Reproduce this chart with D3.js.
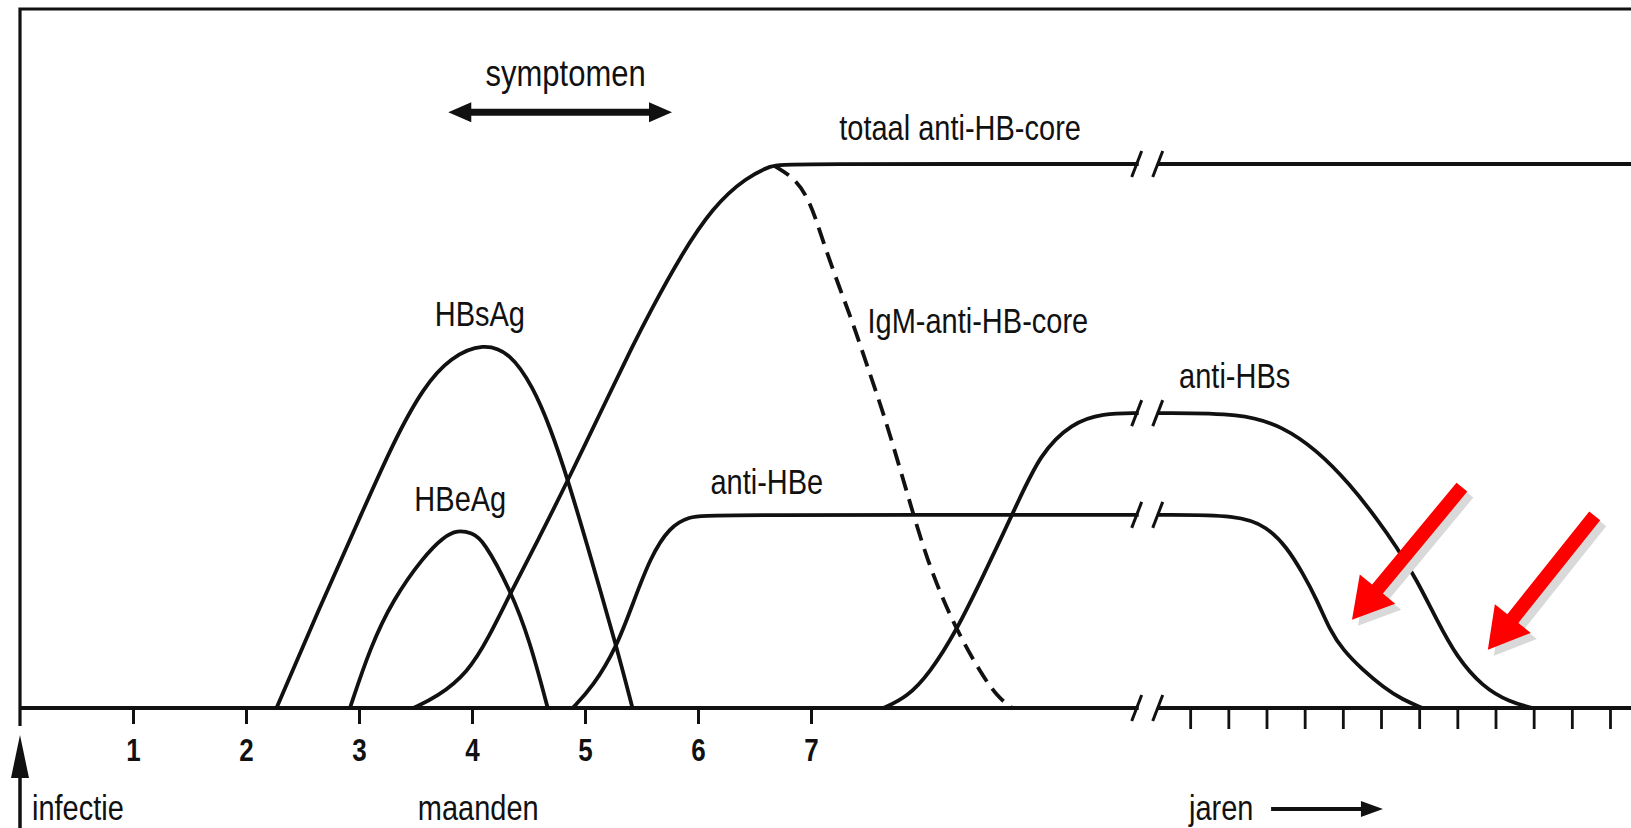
<!DOCTYPE html>
<html>
<head>
<meta charset="utf-8">
<script src="https://cdn.jsdelivr.net/npm/d3@7"></script>
<style>
  body { margin: 0; background: #fff; }
  svg text { font-family: "Liberation Sans", Arial, sans-serif; fill: #111; }
</style>
</head>
<body>
<svg width="1631" height="828"></svg>
<script>
// ---- data (months after infection on the left, years after the axis break) ----
var monthTicks = [1, 2, 3, 4, 5, 6, 7];
var yearTicks = d3.range(1, 13);
var breakLevels = [0, 35.5, 54.2, 100];

// [month, level]
var hbsAg = [[2.27,0],[2.63,17.5],[3.01,35.1],[3.3,48.7],[3.57,59],[3.81,64.5],[4.1,67.1],[4.34,65.3],[4.54,59],[4.69,51.7],[4.85,41.9],[5.04,28.5],[5.28,11.2],[5.42,0]];
var hbeAg = [[2.92,0],[3.1,11.2],[3.3,19.9],[3.57,27.8],[3.75,31.5],[3.87,32.7],[4.0,32.2],[4.1,30.9],[4.34,21.7],[4.51,12.5],[4.67,0]];
var totaalMonths = [[3.48,0],[3.69,2],[3.96,6.4],[4.15,13],[4.34,21.1],[4.6,31.5],[4.85,41.9],[5.22,57.9],[5.42,66.5],[5.58,73],[5.84,82.9],[6.13,92.1],[6.43,97.6],[6.66,99.8],[6.75,100],[9.9,100]];
var igmMonths = [[6.68,99.6],[6.85,97.5],[6.99,93.4],[7.11,85.5],[7.26,76.8],[7.37,70.8],[7.5,62.7],[7.65,53.7],[7.84,40.3],[8.03,26.8],[8.26,15.4],[8.49,6.8],[8.65,2],[8.78,0]];
var antiHBeMonths = [[4.89,0],[5.07,3.9],[5.28,11.2],[5.42,19],[5.58,27.8],[5.75,33.3],[5.92,35.2],[6.1,35.5],[9.9,35.5]];
var antiHBsMonths = [[7.64,0],[7.85,2],[8.05,6.4],[8.29,14.3],[8.52,24.1],[8.8,36.4],[9.03,46.9],[9.31,52.4],[9.58,54.2],[9.9,54.2]];

// [year, level]
var totaalYears = [[0.15,100],[12.6,100]];
var antiHBeYears = [[0.15,35.5],[2.3,35.5],[3.01,33.3],[3.53,29.6],[3.95,24.8],[4.32,19.9],[4.66,14.3],[5.0,10.7],[5.52,7.0],[6.05,3.9],[6.57,1.5],[7.09,0]];
var antiHBsYears = [[0.15,54.2],[2.38,54.2],[3.43,51.7],[4.32,47.4],[5.18,41.2],[5.89,34.8],[6.41,29.6],[6.94,23.5],[7.46,16.2],[7.98,9.4],[8.66,3.9],[9.37,1.1],[9.97,0]];

// label texts and where they sit (month or year, level)
var curveLabels = [
  {text: "symptomen", unit: "m", t: 4.12, v: 114.3},
  {text: "totaal anti-HB-core", unit: "m", t: 7.25, v: 104.4},
  {text: "HBsAg", unit: "m", t: 3.67, v: 70.3},
  {text: "IgM-anti-HB-core", unit: "m", t: 7.5, v: 68.9},
  {text: "anti-HBs", unit: "y", t: 0.71, v: 58.8},
  {text: "HBeAg", unit: "m", t: 3.49, v: 36.2},
  {text: "anti-HBe", unit: "m", t: 6.11, v: 39.3}
];
var symptomSpan = [3.79, 5.77];
var redArrows = [
  {from: [8.12, 40.6], to: [5.24, 16.2]},
  {from: [11.6, 35.3], to: [8.8, 10.7]}
];

// ---- scales ----
var svg = d3.select("svg"),
    width = +svg.attr("width"),
    height = +svg.attr("height");

var xM = d3.scaleLinear().domain([0, 7]).range([20, 811]);
var xY = d3.scaleLinear().domain([0, 12]).range([1152, 1610]);
var y = d3.scaleLinear().domain([0, 100]).range([708, 164]);
var breakM = 9.9, startY = 0.15, endY = 12.6;
var xOf = function (unit) { return unit === "y" ? xY : xM; };
var stretch = " scale(1,1.18)";   // the scanned lettering is tall and narrow

function lineFor(xs) {
  return d3.line()
    .x(function (d) { return xs(d[0]); })
    .y(function (d) { return y(d[1]); })
    .curve(d3.curveBasis);
}

// frame (top and left)
svg.append("path")
  .attr("d", "M" + xM(0) + "," + (y(0) + 18) + "V9H" + width)
  .attr("fill", "none").attr("stroke", "#111").attr("stroke-width", 3.2);

// axes
var gm = svg.append("g")
  .attr("transform", "translate(0," + y(0) + ")")
  .call(d3.axisBottom(xM).tickValues(monthTicks).tickSize(16).tickFormat(d3.format("d")));
gm.select(".domain").remove();
gm.selectAll("line").attr("stroke", "#111").attr("stroke-width", 3);
gm.selectAll("text")
  .attr("y", 0).attr("dy", null)
  .attr("transform", "translate(0,53)" + stretch)
  .attr("font-size", 26).attr("font-weight", "bold")
  .style("font-family", "'Liberation Sans', Arial, sans-serif").attr("fill", "#111");

var gy = svg.append("g")
  .attr("transform", "translate(0," + y(0) + ")")
  .call(d3.axisBottom(xY).tickValues(yearTicks).tickSize(21).tickFormat(""));
gy.select(".domain").remove();
gy.selectAll("line").attr("stroke", "#111").attr("stroke-width", 2.8);

// baseline in two parts
svg.append("path").attr("d", lineFor(xM)([[0, 0], [breakM, 0]]))
  .attr("fill", "none").attr("stroke", "#111").attr("stroke-width", 3.8);
svg.append("path").attr("d", lineFor(xY)([[startY, 0], [endY, 0]]))
  .attr("fill", "none").attr("stroke", "#111").attr("stroke-width", 3.8);

// curves
var series = [
  {m: hbsAg},
  {m: hbeAg},
  {m: totaalMonths, yr: totaalYears},
  {m: antiHBeMonths, yr: antiHBeYears},
  {m: antiHBsMonths, yr: antiHBsYears},
  {m: igmMonths, dash: "17,9"}
];
series.forEach(function (s) {
  svg.append("path").attr("d", lineFor(xM)(s.m))
    .attr("fill", "none").attr("stroke", "#111").attr("stroke-width", 3.8)
    .attr("stroke-dasharray", s.dash || null);
  if (s.yr) {
    svg.append("path").attr("d", lineFor(xY)(s.yr))
      .attr("fill", "none").attr("stroke", "#111").attr("stroke-width", 3.8);
  }
});

// break marks //
breakLevels.forEach(function (v) {
  [xM(breakM) - 2, xY(startY)].forEach(function (bx) {
    svg.append("line")
      .attr("x1", bx + 5).attr("y1", y(v) - 13)
      .attr("x2", bx - 5).attr("y2", y(v) + 13)
      .attr("stroke", "#111").attr("stroke-width", 3);
  });
});

// labels
svg.selectAll(".lbl")
  .data(curveLabels)
  .enter().append("text")
    .attr("class", "lbl")
    .attr("transform", function (d) {
      return "translate(" + xOf(d.unit)(d.t) + "," + y(d.v) + ")" + stretch;
    })
    .attr("font-size", function (d) { return d.text === "symptomen" ? 31 : 29; })
    .text(function (d) { return d.text; });

// symptoms double arrow
var sy = y(109.5), sx0 = xM(symptomSpan[0]), sx1 = xM(symptomSpan[1]);
svg.append("line").attr("x1", sx0 + 12).attr("x2", sx1 - 12).attr("y1", sy).attr("y2", sy)
  .attr("stroke", "#111").attr("stroke-width", 7);
svg.append("path")
  .attr("d", "M" + sx0 + "," + sy + "l23,-10v20z M" + sx1 + "," + sy + "l-23,-10v20z")
  .attr("fill", "#111");

// bottom texts
[
  {text: "infectie", x: xM(0) + 12},
  {text: "maanden", x: xM(3.52)},
  {text: "jaren", x: xY(0.97)}
].forEach(function (d) {
  svg.append("text")
    .attr("transform", "translate(" + d.x + ",820)" + stretch)
    .attr("font-size", 29)
    .text(d.text);
});

// infection arrow
svg.append("line").attr("x1", xM(0)).attr("x2", xM(0)).attr("y1", 770).attr("y2", height)
  .attr("stroke", "#111").attr("stroke-width", 3.5);
svg.append("path")
  .attr("d", "M" + xM(0) + ",735l9,43h-18z").attr("fill", "#111");

// "jaren" arrow
var jy = 809, jx0 = xY(3.12), jx1 = xY(6.05);
svg.append("line").attr("x1", jx0).attr("x2", jx1 - 15).attr("y1", jy).attr("y2", jy)
  .attr("stroke", "#111").attr("stroke-width", 4);
svg.append("path").attr("d", "M" + jx1 + "," + jy + "l-22,-8v16z").attr("fill", "#111");

// red annotation arrows with grey shadow
function arrowPoly(x1, y1, x2, y2, shaft, headL, headW) {
  var dx = x2 - x1, dy = y2 - y1, len = Math.sqrt(dx * dx + dy * dy);
  var ux = dx / len, uy = dy / len, nx = -uy, ny = ux;
  var bx = x2 - ux * headL, by = y2 - uy * headL;
  var p = [
    [x1 + nx * shaft / 2, y1 + ny * shaft / 2],
    [bx + nx * shaft / 2, by + ny * shaft / 2],
    [bx + nx * headW / 2, by + ny * headW / 2],
    [x2, y2],
    [bx - nx * headW / 2, by - ny * headW / 2],
    [bx - nx * shaft / 2, by - ny * shaft / 2],
    [x1 - nx * shaft / 2, y1 - ny * shaft / 2]
  ];
  return "M" + p.join("L") + "Z";
}
redArrows.forEach(function (a) {
  var d = arrowPoly(xY(a.from[0]), y(a.from[1]), xY(a.to[0]), y(a.to[1]), 14, 40, 46);
  svg.append("path").attr("d", d).attr("fill", "#d9d9d9").attr("transform", "translate(6,6)");
  svg.append("path").attr("d", d).attr("fill", "#ff0000");
});
</script>
</body>
</html>
